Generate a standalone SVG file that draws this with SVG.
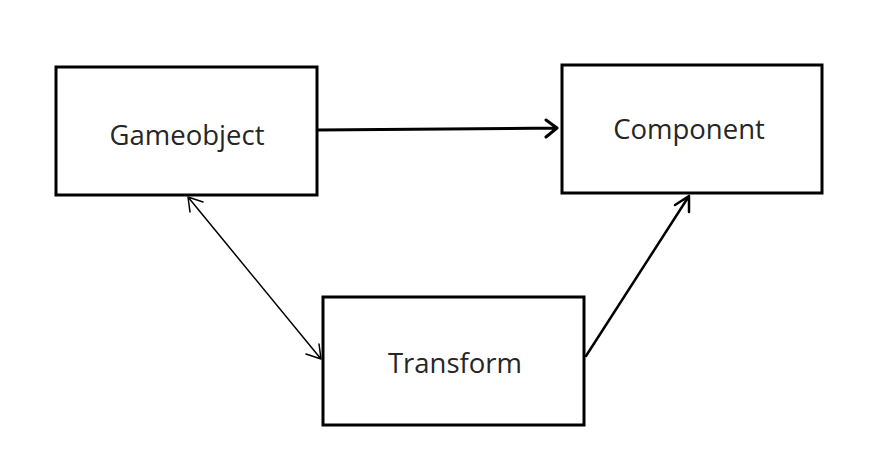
<svg xmlns="http://www.w3.org/2000/svg" width="878" height="468" viewBox="0 0 878 468">
<style>
.box{fill:#fff;stroke:#000;stroke-width:3}
.lbl{font-family:"Open Sans","Noto Sans",sans-serif;font-size:27.5px;fill:#262626;text-anchor:middle;dominant-baseline:central}
.c{fill:none;stroke:#000;stroke-linecap:round;stroke-linejoin:round}
</style>
<rect width="878" height="468" fill="#fff"/>
<g id="gameobject"><rect class="box" x="56" y="67" width="261" height="128"/><text class="lbl" x="187" y="134">Gameobject</text></g>
<g id="component"><rect class="box" x="562" y="65" width="260" height="128"/><text class="lbl" x="689" y="128">Component</text></g>
<g id="transform"><rect class="box" x="323" y="297" width="261" height="128"/><text class="lbl" x="455" y="362">Transform</text></g>
<g id="connectors">
<path class="c" stroke-width="3" d="M318 130 L557 128 M546 120 L557 128 L546 137"/>
<path class="c" stroke-width="1.5" d="M188 197 L321 359 M188 197 L190 212 M188 197 L203 202 M321 359 L319 344 M321 359 L306 354"/>
<path class="c" stroke-width="2.5" d="M586 356 L689 196 M689 196 L675 205 M689 196 L689 212"/>
</g>
</svg>
